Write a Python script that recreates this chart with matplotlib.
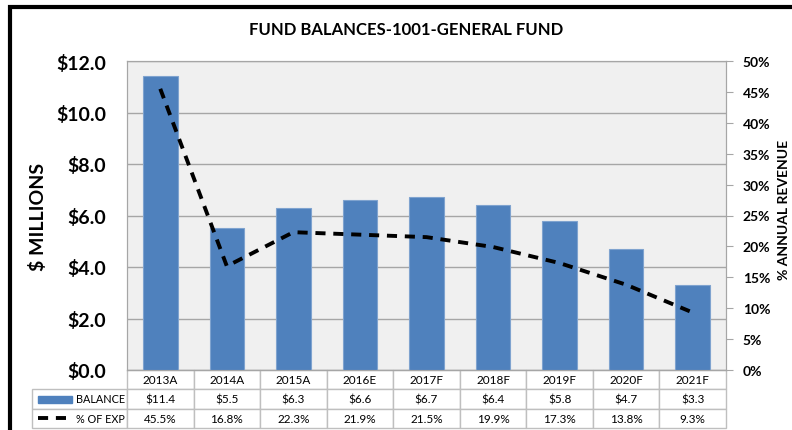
import matplotlib
matplotlib.use("Agg")
import matplotlib.pyplot as plt
from matplotlib.patches import Rectangle
from matplotlib.lines import Line2D
from matplotlib.ticker import FuncFormatter, MultipleLocator

plt.rcParams['font.family'] = ['Lato', 'DejaVu Sans']

# data
years = ["2013A", "2014A", "2015A", "2016E", "2017F", "2018F", "2019F", "2020F", "2021F"]
balance = [11.4, 5.5, 6.3, 6.6, 6.7, 6.4, 5.8, 4.7, 3.3]
pct_exp = [45.5, 16.8, 22.3, 21.9, 21.5, 19.9, 17.3, 13.8, 9.3]
row_names = ["BALANCE", "% OF EXP"]

W, H = 792, 431
fig = plt.figure(figsize=(W / 100, H / 100), dpi=100)

# plot area in pixels
px_l, px_r, px_t, px_b = 127, 726, 62, 371
axw = px_r - px_l
ax = fig.add_axes([px_l / W, 1 - px_b / H, axw / W, (px_b - px_t) / H])
ax.set_facecolor('#f0f0f0')

x = list(range(len(years)))
ax.bar(x, balance, width=0.52, color='#4f81bd', edgecolor='#7fa3cf', linewidth=0.8, zorder=3)
ax.set_xlim(-0.5, len(years) - 0.5)
ax.set_ylim(0, 12)
ax.yaxis.set_major_locator(MultipleLocator(2))
ax.yaxis.set_major_formatter(FuncFormatter(lambda v, p: f"${v:.1f}"))
ax.grid(axis='y', color='#a6a6a6', linewidth=1, zorder=0)
ax.set_xticks([])
ax.tick_params(axis='y', length=0, pad=15, labelsize=14)
for lab in ax.get_yticklabels():
    lab.set_fontweight('bold')
for s in ax.spines.values():
    s.set_color('#a6a6a6')
ax.set_ylabel("$ MILLIONS", fontsize=14, fontweight='bold')
ax.yaxis.set_label_coords((47 - px_l) / axw, 0.5)

ax2 = ax.twinx()
ax2.plot(x, pct_exp, color='black', linewidth=2.8, dashes=(2.6, 2.0), zorder=4)
ax2.set_ylim(0, 50)
ax2.yaxis.set_major_locator(MultipleLocator(5))
ax2.yaxis.set_major_formatter(FuncFormatter(lambda v, p: f"{v:.0f}%"))
ax2.tick_params(axis='y', length=5, color='#a6a6a6', pad=7, labelsize=10)
for lab in ax2.get_yticklabels():
    lab.set_fontweight('bold')
for s in ax2.spines.values():
    s.set_color('#a6a6a6')
ax2.set_ylabel("% ANNUAL REVENUE", fontsize=10, fontweight='bold')
ax2.yaxis.set_label_coords((778 - px_l) / axw, 1 - (210 - px_t) / (px_b - px_t))

# data table under the axes (first column holds row names)
ncol = len(years)
col_px = axw / ncol
lab_px = px_l - 32
row_h = 19.3
tb_h = 3 * row_h
axh = px_b - px_t
cells = [[row_names[0]] + [f"${v:.1f}" for v in balance],
         [row_names[1]] + [f"{v:.1f}%" for v in pct_exp]]
widths = [lab_px] + [col_px] * ncol
tot = sum(widths)
tbl = ax.table(cellText=cells, colLabels=[""] + years,
               colWidths=[w / tot for w in widths], cellLoc='center',
               bbox=[-lab_px / axw, -tb_h / axh, tot / axw, tb_h / axh])
tbl.auto_set_font_size(False)
for (r, c), cell in tbl.get_celld().items():
    cell.set_edgecolor('#bfbfbf')
    cell.set_linewidth(1)
    cell.set_facecolor('white')
    cell.get_text().set_fontsize(8.5)
    if c == 0:
        cell.get_text().set_fontsize(7.8)
        cell.get_text().set_horizontalalignment('left')
        cell.PAD = (76 - 32) / lab_px
        if r == 0:
            cell.visible_edges = ''

# legend keys in the row label cells
fig.add_artist(Rectangle((38 / W, 1 - 403.5 / H), 34 / W, 7 / H, color='#4f81bd',
                         transform=fig.transFigure))
fig.add_artist(Line2D([38 / W, 72 / W], [1 - 419 / H, 1 - 419 / H], color='black',
                      linewidth=2.8, dashes=(2.6, 2.0), transform=fig.transFigure))

fig.text(406 / W, 1 - 30 / H, "FUND BALANCES-1001-GENERAL FUND", ha='center', va='center',
         fontsize=12, fontweight='bold')

# outer chart border (runs off right and bottom)
fig.add_artist(Rectangle((10 / W, -0.2), 1.2, 1.2 - 8 / H, fill=False, edgecolor='black',
                         linewidth=3, transform=fig.transFigure, clip_on=False))

fig.savefig("out.png", dpi=100)
